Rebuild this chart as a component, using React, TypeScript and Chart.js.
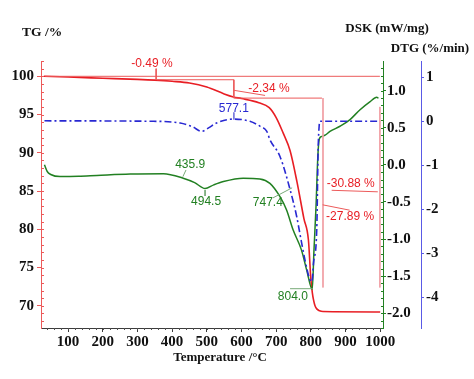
import React, { useEffect, useRef } from "react";
import { Chart, registerables } from "chart.js";
Chart.register(...registerables);

// ---- data ----
const xTicks = [100, 200, 300, 400, 500, 600, 700, 800, 900, 1000];
const tgTicks = [70, 75, 80, 85, 90, 95, 100];
const dskTicks = [-2.0, -1.5, -1.0, -0.5, 0.0, 0.5, 1.0];
const dtgTicks = [-4, -3, -2, -1, 0, 1];

const tgTemp = [30, 100, 200, 300, 350, 400, 450, 500, 550, 577, 600, 650, 680, 700, 720, 740, 760, 780, 793, 800, 804, 808, 812, 817, 825, 835, 1000];
const tgVal = [100, 99.9, 99.75, 99.6, 99.5, 99.35, 99.13, 98.6, 97.7, 97.3, 97.1, 96.55, 95.9, 94.6, 92.6, 90.3, 86.2, 81.4, 78.6, 73.5, 71.8, 70.7, 70.0, 69.6, 69.35, 69.25, 69.2];

const dskTemp = [32, 40, 50, 77, 130, 183, 279, 375, 432, 465, 495, 520, 548, 605, 653, 682, 711, 730, 749, 773, 788, 804, 809, 815, 820, 824, 830, 841, 855, 884, 913, 941, 970, 990, 995];
const dskVal = [-0.0, -0.09, -0.13, -0.158, -0.155, -0.144, -0.125, -0.12, -0.18, -0.24, -0.32, -0.27, -0.225, -0.18, -0.19, -0.25, -0.43, -0.61, -0.88, -1.15, -1.42, -1.68, -1.15, -0.55, 0.1, 0.34, 0.38, 0.4, 0.45, 0.52, 0.61, 0.74, 0.85, 0.91, 0.9];

const dtgTemp = [32, 336, 423, 460, 485, 505, 528, 575, 624, 653, 673, 682, 711, 740, 759, 769, 783, 797, 803, 808, 817, 821, 824, 826, 900, 1000];
const dtgVal = [0.01, 0.0, -0.04, -0.13, -0.23, -0.15, -0.04, 0.05, 0.0, -0.11, -0.23, -0.42, -0.8, -1.55, -2.16, -2.58, -3.15, -3.6, -3.65, -3.2, -2.46, -0.64, -0.1, 0.0, 0.0, 0.0];

// annotation guide segments on the TG axis: [T1, v1, T2, v2]
const tgGuides = [
  [34, 100, 999, 100],
  [357, 99.55, 578, 99.55],
  [578, 99.55, 578, 97.15],
  [578, 97.15, 832, 97.15],
  [354, 101.0, 354, 99.55],
  [578, 98.17, 668, 97.5],
  [860, 85.1, 993, 84.9],
  [834, 83.2, 912, 82.5],
];
const tgPinkGuides = [
  [835, 97.15, 835, 72.4],
  [999, 96.0, 999, 72.4],
];
const dskGuides = [
  [440, -0.07, 431, -0.16],
  [495, -0.34, 495, -0.42],
  [691, -0.445, 746, -0.31],
  [740, -1.67, 806, -1.67],
];
const dtgGuides = [[578, 0.2, 578, 0.04]];

// annotation labels: text, temperature, value, axis
const labelText = ["-0.49 %", "-2.34 %", "-30.88 %", "-27.89 %", "577.1", "435.9", "494.5", "747.4", "804.0"];
const labelTemp = [342, 679, 915, 913, 578, 452, 498, 676, 748];
const labelVal = [101.7, 98.44, 85.9, 81.6, 0.29, 0.0, -0.5, -0.51, -1.78];
const labelAxis = ["yTG", "yTG", "yTG", "yTG", "yDTG", "yDSK", "yDSK", "yDSK", "yDSK"];

const RED = "rgb(232,30,36)";
const GREEN = "rgb(34,128,34)";
const BLUE = "rgb(40,40,210)";
const LRED = "rgb(236,90,90)";
const PINK = "rgb(240,160,165)";

const pts = (xs: number[], ys: number[]) => xs.map((x, i) => ({ x, y: ys[i] }));
const seg = (s: number[]) => [{ x: s[0], y: s[1] }, { x: s[2], y: s[3] }];

const SERIF = "'Liberation Serif', 'DejaVu Serif', serif";
const NARROW = "'Liberation Sans Narrow', 'Liberation Sans', Arial, sans-serif";

const decorPlugin = {
  id: "decor",
  afterDraw(chart: any) {
    const ctx = chart.ctx;
    const { x, yTG, yDSK } = chart.scales;
    const area = chart.chartArea;
    ctx.save();
    // minor ticks
    ctx.lineWidth = 1;
    ctx.strokeStyle = LRED;
    for (let v = 68; v <= 102; v += 1) {
      const py = Math.round(yTG.getPixelForValue(v)) + 0.5;
      ctx.beginPath();
      ctx.moveTo(area.left, py);
      ctx.lineTo(area.left + 3, py);
      ctx.stroke();
    }
    ctx.strokeStyle = GREEN;
    for (let v = -2.2; v <= 1.4; v += 0.1) {
      const py = Math.round(yDSK.getPixelForValue(v)) + 0.5;
      ctx.beginPath();
      ctx.moveTo(area.right, py);
      ctx.lineTo(area.right - 2, py);
      ctx.stroke();
    }
    ctx.strokeStyle = "rgb(80,80,80)";
    for (let v = 40; v <= 1000; v += 20) {
      const px = Math.round(x.getPixelForValue(v)) + 0.5;
      ctx.beginPath();
      ctx.moveTo(px, area.bottom);
      ctx.lineTo(px, area.bottom + 2);
      ctx.stroke();
    }
    // annotation labels
    ctx.font = "12px " + NARROW;
    ctx.textAlign = "center";
    ctx.textBaseline = "middle";
    labelText.forEach((t, i) => {
      const ax = labelAxis[i];
      ctx.fillStyle = ax === "yTG" ? RED : ax === "yDSK" ? GREEN : BLUE;
      const sc = chart.scales[ax];
      ctx.fillText(t, x.getPixelForValue(labelTemp[i]), sc.getPixelForValue(labelVal[i]));
    });
    // titles
    ctx.fillStyle = "#111";
    ctx.font = "bold 13.5px " + SERIF;
    ctx.textAlign = "left";
    ctx.fillText("TG /%", 22, 33);
    ctx.textAlign = "center";
    ctx.font = "bold 13px " + SERIF;
    ctx.fillText("DSK (mW/mg)", 387, 29);
    ctx.fillText("DTG (%/min)", 430, 49);
    ctx.fillText("Temperature /°C", 220, 358);
    ctx.restore();
  },
};

export default function App() {
  const ref = useRef<HTMLCanvasElement>(null);
  useEffect(() => {
    const guideDs = (segs: number[][], axis: string, color: string) =>
      segs.map((s) => ({
        data: seg(s),
        yAxisID: axis,
        borderColor: color,
        borderWidth: 1,
        pointRadius: 0,
        tension: 0,
        showLine: true,
      }));
    const tickFont = { family: SERIF, size: 15, weight: "bold" as const };
    const chart = new Chart(ref.current!, {
      type: "line",
      data: {
        datasets: [
          ...guideDs(tgGuides, "yTG", LRED),
          ...guideDs(tgPinkGuides, "yTG", PINK),
          ...guideDs(dskGuides, "yDSK", "rgb(120,170,120)"),
          ...guideDs(dtgGuides, "yDTG", "rgb(120,120,220)"),
          {
            data: pts(dtgTemp, dtgVal),
            yAxisID: "yDTG",
            borderColor: BLUE,
            borderWidth: 1.6,
            borderDash: [7, 3, 2, 3],
            pointRadius: 0,
            cubicInterpolationMode: "monotone",
          },
          {
            data: pts(dskTemp, dskVal),
            yAxisID: "yDSK",
            borderColor: GREEN,
            borderWidth: 1.5,
            pointRadius: 0,
            cubicInterpolationMode: "monotone",
          },
          {
            data: pts(tgTemp, tgVal),
            yAxisID: "yTG",
            borderColor: RED,
            borderWidth: 1.6,
            pointRadius: 0,
            cubicInterpolationMode: "monotone",
          },
        ],
      },
      options: {
        responsive: false,
        animation: false,
        layout: { padding: { top: 61, left: 0, right: 0, bottom: 0 } },
        plugins: { legend: { display: false }, tooltip: { enabled: false } },
        scales: {
          x: {
            type: "linear",
            min: 22,
            max: 1008,
            afterBuildTicks: (s: any) => {
              s.ticks = xTicks.map((v) => ({ value: v }));
            },
            afterFit: (s: any) => {
              s.height = 51;
            },
            border: { color: "rgb(60,60,60)", width: 1 },
            grid: { drawOnChartArea: false, tickLength: 4, color: "rgb(60,60,60)" },
            ticks: {
              color: "#111",
              font: tickFont,
              padding: 1,
              maxRotation: 0,
              autoSkip: false,
              callback: (v: any) => String(v),
            },
          },
          yTG: {
            type: "linear",
            position: "left",
            min: 67.1,
            max: 102,
            afterBuildTicks: (s: any) => {
              s.ticks = tgTicks.map((v) => ({ value: v }));
            },
            afterFit: (s: any) => {
              s.width = 41;
            },
            border: { color: LRED, width: 1 },
            grid: { drawOnChartArea: false, tickLength: 4, color: LRED },
            ticks: { color: "#111", font: tickFont, padding: 3, autoSkip: false },
          },
          yDSK: {
            type: "linear",
            position: "right",
            min: -2.2,
            max: 1.4,
            afterBuildTicks: (s: any) => {
              s.ticks = dskTicks.map((v) => ({ value: v }));
            },
            afterFit: (s: any) => {
              s.width = 38;
            },
            border: { color: GREEN, width: 1 },
            grid: { drawOnChartArea: false, tickLength: 3, color: GREEN },
            ticks: {
              color: "#111",
              font: tickFont,
              padding: 1,
              autoSkip: false,
              callback: (v: any) => Number(v).toFixed(1),
            },
          },
          yDTG: {
            type: "linear",
            position: "right",
            min: -4.7,
            max: 1.37,
            afterBuildTicks: (s: any) => {
              s.ticks = dtgTicks.map((v) => ({ value: v }));
            },
            afterFit: (s: any) => {
              s.width = 53;
            },
            border: { color: "rgb(90,90,230)", width: 1 },
            grid: { drawOnChartArea: false, tickLength: 3, color: "rgb(90,90,230)" },
            ticks: { color: "#111", font: tickFont, padding: 2, autoSkip: false },
          },
        },
      },
      plugins: [decorPlugin],
    } as any);
    return () => chart.destroy();
  }, []);
  return (
    <div style={{ position: "absolute", left: 0, top: 0, width: 474, height: 379, background: "#fff" }}>
      <canvas ref={ref} width={474} height={379} style={{ display: "block" }} />
    </div>
  );
}
